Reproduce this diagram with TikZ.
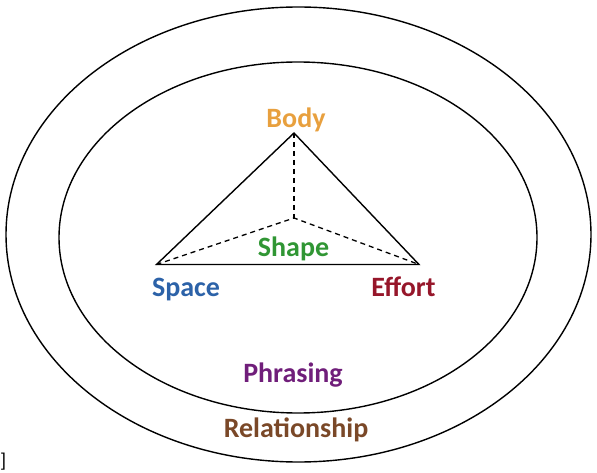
\documentclass[tikz,border=0pt]{standalone}
\usepackage{fontspec}
\setmainfont{Carlito}
\usepackage{xcolor}
\usetikzlibrary{positioning}

\definecolor{bodyc}{RGB}{232,160,62}
\definecolor{shapec}{RGB}{48,150,52}
\definecolor{spacec}{RGB}{44,98,168}
\definecolor{effortc}{RGB}{150,22,42}
\definecolor{phrasec}{RGB}{112,30,122}
\definecolor{relc}{RGB}{122,72,40}

\begin{document}
\begin{tikzpicture}[
  x=1pt, y=-1pt,
  ring/.style={draw, line width=1.4pt},
  edge/.style={line width=1.4pt},
  hidden/.style={line width=1.3pt, dash pattern=on 5pt off 4pt},
  lbl/.style={anchor=base, inner sep=0pt, font=\fontsize{28}{30}\selectfont\bfseries},
]
\useasboundingbox (0,0) rectangle (597,473);

% rings
\draw[ring] (298.5,234.5) ellipse [x radius=292.5pt, y radius=227.5pt];
\draw[ring] (298,237.5) ellipse [x radius=239pt, y radius=175.5pt];

% pyramid
\coordinate (body) at (294,133);
\coordinate (space) at (156.5,264.5);
\coordinate (effort) at (419,264.5);
\coordinate (shape) at (294,218);
\draw[edge, line join=miter] (body) -- (space) -- (effort) -- cycle;
\draw[hidden] (body) -- (shape);
\draw[hidden] (space) -- (shape) -- (effort);

% labels
\node[lbl, text=bodyc] (bodylbl) at (296,128) {Body};
\node[lbl, text=shapec] (shapelbl) at (293.5,257) {Shape};
\node[lbl, text=spacec] (spacelbl) at (186,296) {Space};
\node[lbl, text=effortc] (effortlbl) at (403.5,296) {Effort};
\node[lbl, text=phrasec] (phraselbl) at (293,382) {Phrasing};
\node[lbl, text=relc] (rellbl) at (296,437) {Relationship};

\node[anchor=south west, inner sep=0pt, font=\fontsize{20}{20}\selectfont] (mark) at (0,470) {]};
\end{tikzpicture}
\end{document}
